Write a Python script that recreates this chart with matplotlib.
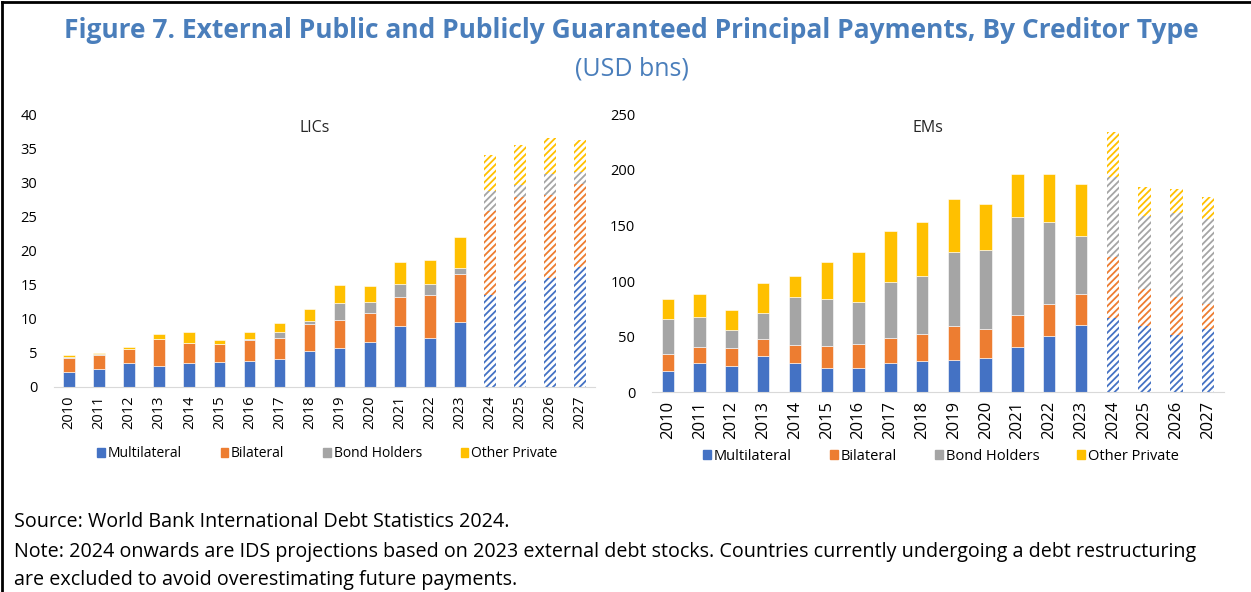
import matplotlib.pyplot as plt
import matplotlib.patches as mpatches
from matplotlib.lines import Line2D
import numpy as np

plt.rcParams["font.family"] = ["Open Sans", "DejaVu Sans"]
plt.rcParams["hatch.linewidth"] = 1.3

years = [str(y) for y in range(2010, 2028)]
first_projection = "2024"

# LICs, USD bns
lic_multi = [2.2, 2.6, 3.5, 3.1, 3.5, 3.6, 3.75, 4.1, 5.3, 5.65, 6.55, 8.9, 7.2, 9.5, 13.55, 15.6, 15.9, 17.55]
lic_bilat = [2.1, 2.1, 2.0, 3.9, 2.9, 2.7, 3.15, 3.1, 3.9, 4.15, 4.3, 4.3, 6.25, 7.1, 12.3, 12.2, 12.2, 12.25]
lic_bonds = [0.1, 0.15, 0.05, 0.05, 0.1, 0.05, 0.2, 0.9, 0.4, 2.5, 1.6, 1.95, 1.6, 0.9, 2.8, 1.75, 3.1, 1.7]
lic_other = [0.3, 0.2, 0.3, 0.65, 1.55, 0.55, 0.95, 1.25, 1.8, 2.7, 2.3, 3.15, 3.5, 4.45, 5.4, 5.95, 5.3, 4.7]

# EMs, USD bns
em_multi = [19.5, 26.4, 24.0, 33.0, 26.1, 21.6, 21.6, 26.1, 27.9, 29.4, 31.2, 40.5, 51.0, 60.6, 66.5, 60.0, 51.3, 56.7]
em_bilat = [15.3, 14.7, 16.2, 14.7, 16.2, 20.4, 21.6, 22.5, 24.9, 30.6, 25.5, 28.7, 28.1, 28.1, 55.2, 32.6, 34.1, 22.4]
em_bonds = [31.1, 26.6, 15.6, 23.9, 43.7, 41.6, 37.7, 50.3, 51.5, 66.2, 71.6, 88.2, 74.4, 51.9, 71.6, 66.3, 75.9, 76.5]
em_other = [18.0, 20.7, 17.9, 26.4, 18.9, 33.3, 45.0, 45.9, 49.2, 47.7, 41.4, 39.2, 43.1, 46.8, 41.1, 25.8, 21.6, 20.1]

series_names = ["Multilateral", "Bilateral", "Bond Holders", "Other Private"]
colors = ["#4472C4", "#ED7D31", "#A5A5A5", "#FFC000"]
title_blue = "#4A7EBB"


def stacked_panel(ax, series, title, ymax, ystep, xtick_size, legend_y, col_space, legend_size):
    x = np.arange(len(years))
    split = years.index(first_projection)
    bottom = np.zeros(len(years))
    for vals, color, name in zip(series, colors, series_names):
        vals = np.array(vals)
        # actuals: solid fill
        ax.bar(x[:split], vals[:split], 0.39, bottom=bottom[:split],
               color=color, edgecolor="white", linewidth=0.4, label=name)
        # projections: striped
        ax.bar(x[split:], vals[split:], 0.39, bottom=bottom[split:],
               facecolor="white", edgecolor=color, linewidth=0, hatch="/////")
        bottom += vals

    ax.set_xlim(-0.5, len(years) - 0.5)
    ax.set_ylim(0, ymax)
    ax.set_yticks(np.arange(0, ymax + 1, ystep))
    ax.set_xticks(x)
    ax.set_xticklabels(years, rotation=90, fontsize=xtick_size)
    ax.tick_params(axis="y", labelsize=10.5, length=0, pad=12)
    ax.tick_params(axis="x", length=0, pad=6)
    for side in ["top", "right", "left"]:
        ax.spines[side].set_visible(False)
    ax.spines["bottom"].set_color("#D9D9D9")
    ax.text(0.482, 0.95, title, transform=ax.transAxes, ha="center", va="center",
            fontsize=11.5, color="#262626")

    handles = [mpatches.Patch(color=c) for c in colors]
    ax.legend(handles, series_names, loc="center", bbox_to_anchor=(0.505, legend_y),
              ncol=4, frameon=False, fontsize=legend_size, handlelength=0.55,
              handleheight=0.55, handletextpad=0.2, columnspacing=col_space)


fig = plt.figure(figsize=(12.51, 5.92), dpi=100)
ax1 = fig.add_axes([0.0432, 0.3463, 0.4325, 0.4611])
ax2 = fig.add_axes([0.5212, 0.3373, 0.4572, 0.4696])

stacked_panel(ax1, [lic_multi, lic_bilat, lic_bonds, lic_other], "LICs", 40, 5, 10.5, -0.245, 2.8, 10)
stacked_panel(ax2, [em_multi, em_bilat, em_bonds, em_other], "EMs", 250, 50, 12, -0.23, 2.6, 10.5)

fig.text(0.505, 0.948, "Figure 7. External Public and Publicly Guaranteed Principal Payments, By Creditor Type",
         ha="center", va="center", fontsize=19, fontweight="bold", color=title_blue)
fig.text(0.505, 0.884, "(USD bns)", ha="center", va="center", fontsize=18, color=title_blue)

fig.text(0.011, 0.118, "Source: World Bank International Debt Statistics 2024.",
         ha="left", va="center", fontsize=14.2, color="black")
fig.text(0.011, 0.068, "Note: 2024 onwards are IDS projections based on 2023 external debt stocks. "
         "Countries currently undergoing a debt restructuring",
         ha="left", va="center", fontsize=14.2, color="black")
fig.text(0.011, 0.02, "are excluded to avoid overestimating future payments.",
         ha="left", va="center", fontsize=14.2, color="black")

# outer frame: left and top edges only
fig.add_artist(Line2D([0.0016, 0.0016], [0, 0.9966], transform=fig.transFigure,
                      color="black", linewidth=2))
fig.add_artist(Line2D([0.0016, 1], [0.9966, 0.9966], transform=fig.transFigure,
                      color="black", linewidth=2))

fig.savefig("out.png", dpi=100)
